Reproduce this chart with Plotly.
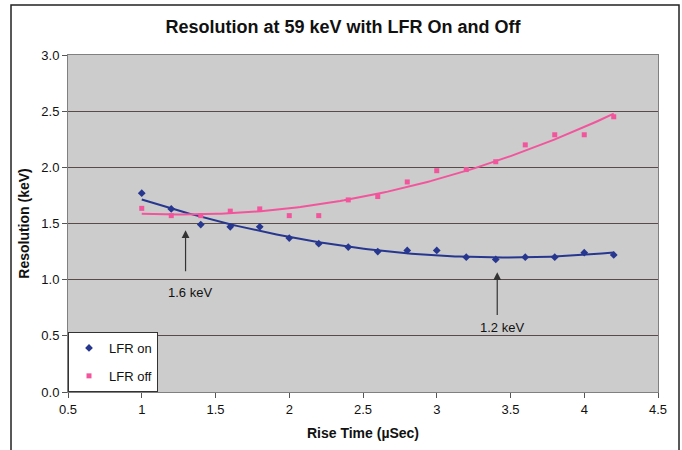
import numpy as np
import plotly.graph_objects as go

# ---- data ----
rise_time = [1.0, 1.2, 1.4, 1.6, 1.8, 2.0, 2.2, 2.4, 2.6, 2.8, 3.0, 3.2, 3.4, 3.6, 3.8, 4.0, 4.2]
lfr_on = [1.77, 1.63, 1.49, 1.47, 1.47, 1.37, 1.32, 1.29, 1.25, 1.26, 1.26, 1.20, 1.18, 1.20, 1.20, 1.24, 1.22]
lfr_off = [1.635, 1.57, 1.57, 1.61, 1.63, 1.57, 1.57, 1.71, 1.74, 1.87, 1.97, 1.98, 2.05, 2.20, 2.29, 2.29, 2.45]

series_names = ["LFR on", "LFR off"]
title_text = "Resolution at 59 keV with LFR On and Off"
x_title = "Rise Time (µSec)"
y_title = "Resolution (keV)"
x_ticks = [0.5, 1, 1.5, 2, 2.5, 3, 3.5, 4, 4.5]
x_tick_labels = ["0.5", "1", "1.5", "2", "2.5", "3", "3.5", "4", "4.5"]
y_ticks = [0.0, 0.5, 1.0, 1.5, 2.0, 2.5, 3.0]
y_tick_labels = ["0.0", "0.5", "1.0", "1.5", "2.0", "2.5", "3.0"]
callouts = [("1.6 keV", 1.297, 1.44, 1.058, 0.889), ("1.2 keV", 3.41, 1.067, 0.667, 0.578)]

BLUE = "#27378f"
PINK = "#f2559c"
FONT = "Liberation Sans, Arial, sans-serif"

fig = go.Figure()

# polynomial (2nd order) trend lines, as in the original spreadsheet chart
xs = np.linspace(min(rise_time), max(rise_time), 120)
for vals, col in [(lfr_on, BLUE), (lfr_off, PINK)]:
    c = np.polyfit(rise_time, vals, 2)
    fig.add_trace(go.Scatter(x=xs, y=np.polyval(c, xs), mode="lines",
                             line=dict(color=col, width=2), showlegend=False,
                             hoverinfo="skip"))

fig.add_trace(go.Scatter(x=rise_time, y=lfr_on, mode="markers", name=series_names[0],
                         legendgroup="on",
                         marker=dict(symbol="diamond", size=6, color=BLUE)))
fig.add_trace(go.Scatter(x=rise_time, y=lfr_off, mode="markers", name=series_names[1],
                         legendgroup="off",
                         marker=dict(symbol="square", size=5, color=PINK)))

annotations = []
for label, xa, ytip, ytail, ytext in callouts:
    annotations.append(dict(x=xa, y=ytip, xref="x", yref="y", text=" ", font=dict(size=1),
                            showarrow=True, ax=xa, ay=ytail, axref="x", ayref="y",
                            arrowhead=2, arrowsize=1.3, arrowwidth=1.2, arrowcolor="#333333"))
    annotations.append(dict(x=xa + 0.03, y=ytext, xref="x", yref="y", text=label, showarrow=False,
                            font=dict(family=FONT, size=13, color="#111111")))

fig.update_layout(
    width=682, height=450,
    paper_bgcolor="white",
    plot_bgcolor="#cccccc",
    margin=dict(l=68, r=24, t=55, b=58),
    font=dict(family=FONT, size=13, color="#111111"),
    title=dict(text="<b>" + title_text + "</b>", x=0.503, xanchor="center",
               y=1 - 27 / 450, yanchor="middle",
               font=dict(family=FONT, size=18, color="#111111")),
    showlegend=True,
    legend=dict(x=0, y=0, xanchor="left", yanchor="bottom", bgcolor="white",
                bordercolor="#333333", borderwidth=1, tracegroupgap=8,
                font=dict(family=FONT, size=13, color="#111111"), itemwidth=30),
    annotations=annotations,
    shapes=[dict(type="rect", xref="paper", yref="paper", x0=-0.0966, x1=1.0356,
                 y0=-0.25, y1=1.148, line=dict(color="#222222", width=1.5), layer="above")],
)

fig.update_xaxes(range=[0.5, 4.5], tickvals=x_ticks, ticktext=x_tick_labels,
                 showgrid=False, zeroline=False, showline=True, linecolor="#808080",
                 linewidth=1, mirror=True, ticks="outside", ticklen=5, tickcolor="#555555",
                 title=dict(text="<b>" + x_title + "</b>", font=dict(family=FONT, size=14),
                            standoff=12))
fig.update_yaxes(range=[0, 3.0], tickvals=y_ticks, ticktext=y_tick_labels,
                 showgrid=True, gridcolor="#5a4a48", gridwidth=1, zeroline=False,
                 showline=True, linecolor="#808080", linewidth=1, mirror=True,
                 ticks="outside", ticklen=5, tickcolor="#555555",
                 title=dict(text="<b>" + y_title + "</b>", font=dict(family=FONT, size=14),
                            standoff=8))

fig.write_html("out.html", config={"displayModeBar": False},
               post_script="document.body.style.margin='0';document.body.style.overflow='hidden';")
